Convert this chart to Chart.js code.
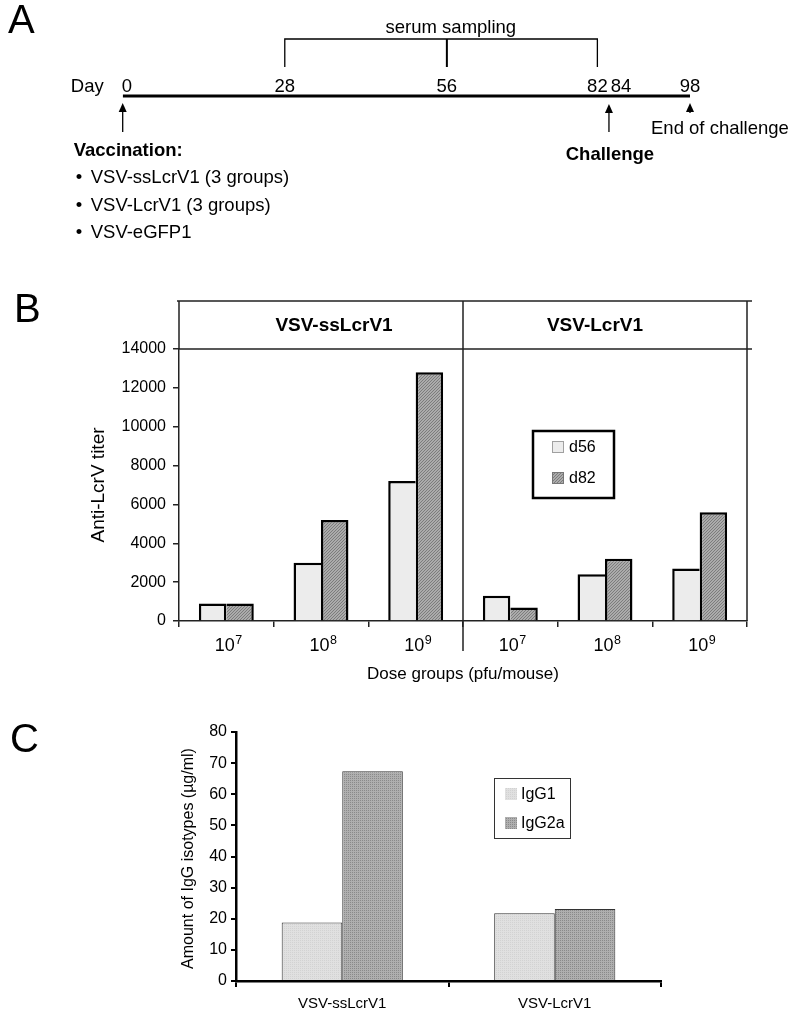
<!DOCTYPE html>
<html>
<head>
<meta charset="utf-8">
<script src="https://cdn.jsdelivr.net/npm/chart.js@4.4.1/dist/chart.umd.min.js"></script>
<style>
  body { margin: 0; background: #fff; }
  #wrap { position: relative; width: 800px; height: 1017px; background: #fff; }
  canvas { position: absolute; left: 0; }
</style>
</head>
<body>
<div id="wrap">
  <canvas id="timeline" width="800" height="260" style="top:0"></canvas>
  <canvas id="titer" width="800" height="400" style="top:290px"></canvas>
  <canvas id="isotype" width="800" height="327" style="top:690px"></canvas>
</div>
<script>
// --- panel A: study timeline (days)
const timelineDays = [0, 28, 56, 82, 84, 98];
const samplingDays = [28, 56, 82];
const vaccinationDay = 0;
const challengeDay = 84;
const endDay = 98;
const vaccineGroups = ['VSV-ssLcrV1 (3 groups)', 'VSV-LcrV1 (3 groups)', 'VSV-eGFP1'];

// --- panel B: anti-LcrV titer
const vectorGroups = ['VSV-ssLcrV1', 'VSV-LcrV1'];
const doseExponents = [7, 8, 9, 7, 8, 9];
const titerD56 = [900, 3000, 7200, 1300, 2400, 2700];
const titerD82 = [900, 5200, 12800, 700, 3200, 5600];

// --- panel C: IgG isotypes (ug/ml)
const isoGroups = ['VSV-ssLcrV1', 'VSV-LcrV1'];
const igg1 = [18.8, 21.8];
const igg2a = [67.4, 23.1];

const FONT = '"Liberation Sans", Arial, Helvetica, sans-serif';
Chart.defaults.font.family = FONT;
Chart.defaults.color = '#000';

function makePattern(size, base, ink, cells) {
  const c = document.createElement('canvas');
  c.width = c.height = size;
  const g = c.getContext('2d');
  g.fillStyle = base;
  g.fillRect(0, 0, size, size);
  g.fillStyle = ink;
  cells.forEach(([px, py]) => g.fillRect(px, py, 1, 1));
  return g.createPattern(c, 'repeat');
}
const d56Fill = '#ececec';
const d82Fill = makePattern(3, '#ababab', '#7c7c7c', [[0, 2], [1, 1], [2, 0]]);
const igg1Fill = makePattern(2, '#e0e0e0', '#d2d2d2', [[0, 0]]);
const igg2aFill = makePattern(2, '#afafaf', '#8a8a8a', [[0, 0]]);

function panelLetter(ctx, letter, px, py) {
  ctx.font = '40px ' + FONT;
  ctx.textAlign = 'left';
  ctx.textBaseline = 'alphabetic';
  ctx.fillText(letter, px, py);
}

// ---------------- A ----------------
const timelineDecor = {
  id: 'timelineDecor',
  afterDatasetsDraw(chart) {
    const { ctx, scales: { x, y } } = chart;
    const X = d => x.getPixelForValue(d);
    const y0 = y.getPixelForValue(0);
    ctx.save();
    ctx.fillStyle = '#000';
    ctx.strokeStyle = '#000';
    panelLetter(ctx, 'A', 8, 33);

    ctx.font = '18.5px ' + FONT;
    ctx.textAlign = 'right';
    ctx.fillText('Day', X(0) - 19, y0 - 4);

    // day labels, pushed apart where they would collide
    const labs = timelineDays.map(d => {
      const t = String(d);
      return { t, c: X(d), w: ctx.measureText(t).width };
    });
    labs[0].c += labs[0].w / 2 - 1;
    for (let i = 1; i < labs.length; i++) {
      const a = labs[i - 1], b = labs[i];
      const gap = (b.c - b.w / 2) - (a.c + a.w / 2);
      if (gap < 3) b.c += 3 - gap;
    }
    ctx.textAlign = 'center';
    labs.forEach(l => ctx.fillText(l.t, l.c, y0 - 4));

    // serum sampling bracket
    const top = y0 - 57, bot = y0 - 29;
    const first = samplingDays[0], last = samplingDays[samplingDays.length - 1];
    ctx.lineWidth = 1.3;
    ctx.beginPath();
    ctx.moveTo(X(first), bot);
    ctx.lineTo(X(first), top);
    ctx.lineTo(X(last), top);
    ctx.lineTo(X(last), bot);
    ctx.stroke();
    ctx.lineWidth = 2;
    samplingDays.slice(1, -1).forEach(d => {
      ctx.beginPath();
      ctx.moveTo(X(d), top);
      ctx.lineTo(X(d), bot);
      ctx.stroke();
    });
    ctx.fillText('serum sampling', X(samplingDays[1]) + 4, y0 - 63);

    function arrow(px, tip, tail) {
      ctx.lineWidth = 1.3;
      ctx.beginPath();
      ctx.moveTo(px, tail);
      ctx.lineTo(px, tip + 6);
      ctx.stroke();
      ctx.beginPath();
      ctx.moveTo(px, tip);
      ctx.lineTo(px - 4, tip + 9);
      ctx.lineTo(px + 4, tip + 9);
      ctx.closePath();
      ctx.fill();
    }
    arrow(X(vaccinationDay), y0 + 7, y0 + 36);
    arrow(X(challengeDay), y0 + 8, y0 + 36);
    arrow(X(endDay), y0 + 7, y0 + 17);

    ctx.textAlign = 'left';
    ctx.fillText('End of challenge', X(endDay) - 39, y0 + 38);
    ctx.font = 'bold 18.5px ' + FONT;
    ctx.textAlign = 'center';
    ctx.fillText('Challenge', X(challengeDay) + 1, y0 + 64);

    const lx = X(vaccinationDay) - 49;
    ctx.textAlign = 'left';
    ctx.fillText('Vaccination:', lx, y0 + 60);
    ctx.font = '18.5px ' + FONT;
    vaccineGroups.forEach((g, i) => {
      const by = y0 + 87 + i * 27.5;
      ctx.fillText('\u2022', lx + 2, by);
      ctx.fillText(g, lx + 17, by);
    });
    ctx.restore();
  }
};

new Chart(document.getElementById('timeline'), {
  type: 'scatter',
  data: {
    datasets: [{
      data: timelineDays.map(d => ({ x: d, y: 0 })),
      showLine: true,
      borderColor: '#000',
      borderWidth: 3,
      pointRadius: 0
    }]
  },
  options: {
    responsive: false,
    animation: false,
    layout: { padding: { left: 122.7, right: 110, top: 0, bottom: 68 } },
    plugins: { legend: { display: false }, tooltip: { enabled: false } },
    scales: {
      x: { type: 'linear', min: 0, max: 98, display: false },
      y: { min: -1, max: 1, display: false }
    }
  },
  plugins: [timelineDecor]
});

// ---------------- B ----------------
const doseDecor = {
  id: 'doseDecor',
  afterDraw(chart) {
    const { ctx, chartArea: a, scales: { x } } = chart;
    const headTop = a.top - 48;
    ctx.save();
    ctx.fillStyle = '#000';
    panelLetter(ctx, 'B', 14, 32);

    ctx.strokeStyle = '#222';
    ctx.lineWidth = 1.5;
    const xd = (x.getPixelForValue(2) + x.getPixelForValue(3)) / 2;
    ctx.beginPath();
    ctx.moveTo(a.left, a.top);
    ctx.lineTo(a.left, headTop);
    ctx.moveTo(a.left - 2, headTop);
    ctx.lineTo(a.right + 5, headTop);
    ctx.moveTo(a.right, headTop);
    ctx.lineTo(a.right, a.bottom);
    ctx.moveTo(a.left, a.top);
    ctx.lineTo(a.right + 5, a.top);
    ctx.moveTo(xd, headTop);
    ctx.lineTo(xd, a.bottom + 30);
    ctx.stroke();

    // group headers
    ctx.font = 'bold 19px ' + FONT;
    ctx.textAlign = 'center';
    ctx.textBaseline = 'middle';
    vectorGroups.forEach((g, i) => {
      const cx = x.getPixelForValue(i * 3 + 1) + (i === 0 ? 13 : -10);
      ctx.fillText(g, cx, (headTop + a.top) / 2 + 1);
    });

    // dose labels 10^n
    ctx.textBaseline = 'alphabetic';
    ctx.textAlign = 'left';
    doseExponents.forEach((e, i) => {
      ctx.font = '18px ' + FONT;
      const w10 = ctx.measureText('10').width;
      ctx.font = '12.5px ' + FONT;
      const we = ctx.measureText(String(e)).width;
      const start = x.getPixelForValue(i) - (w10 + we) / 2 + 2;
      const by = a.bottom + 30;
      ctx.font = '18px ' + FONT;
      ctx.fillText('10', start, by);
      ctx.font = '12.5px ' + FONT;
      ctx.fillText(String(e), start + w10 + 0.5, by - 7);
    });

    ctx.font = '17px ' + FONT;
    ctx.textAlign = 'center';
    ctx.fillText('Dose groups (pfu/mouse)', (a.left + a.right) / 2, a.bottom + 58);

    ctx.save();
    ctx.translate(99, (a.top + a.bottom) / 2);
    ctx.rotate(-Math.PI / 2);
    ctx.font = '19px ' + FONT;
    ctx.textBaseline = 'middle';
    ctx.fillText('Anti-LcrV titer', 0, 0);
    ctx.restore();

    // legend
    const ds = chart.data.datasets;
    ctx.lineWidth = 2.5;
    ctx.strokeStyle = '#000';
    ctx.strokeRect(533, 141, 81, 67);
    ctx.font = '16px ' + FONT;
    ctx.textAlign = 'left';
    ctx.textBaseline = 'middle';
    ds.forEach((d, i) => {
      const cy = 157 + i * 31;
      ctx.fillStyle = d.backgroundColor;
      ctx.fillRect(552, cy - 6, 12, 12);
      ctx.lineWidth = 1;
      ctx.strokeStyle = i === 0 ? '#a0a0a0' : '#777';
      ctx.strokeRect(552.5, cy - 5.5, 11, 11);
      ctx.fillStyle = '#000';
      ctx.fillText(d.label, 569, cy + 1);
    });
    ctx.restore();
  }
};

new Chart(document.getElementById('titer'), {
  type: 'bar',
  data: {
    labels: doseExponents.map(e => '10^' + e),
    datasets: [
      {
        label: 'd56',
        data: titerD56,
        backgroundColor: d56Fill,
        borderColor: '#000',
        borderWidth: c => ({ top: 2.5, left: 2.5, bottom: 0,
          right: titerD56[c.dataIndex] >= titerD82[c.dataIndex] ? 2.5 : 0 })
      },
      {
        label: 'd82',
        data: titerD82,
        backgroundColor: d82Fill,
        borderColor: '#000',
        borderWidth: c => ({ top: 2.5, right: 2.5, bottom: 0,
          left: titerD82[c.dataIndex] > titerD56[c.dataIndex] ? 2.5 : 0 })
      }
    ]
  },
  options: {
    responsive: false,
    animation: false,
    datasets: { bar: { categoryPercentage: 0.58, barPercentage: 1 } },
    layout: { padding: { left: 0, right: 53, top: 59, bottom: 9 } },
    plugins: { legend: { display: false }, tooltip: { enabled: false } },
    scales: {
      x: {
        grid: { display: true, drawOnChartArea: false, offset: true, tickLength: 6, color: '#222', lineWidth: 1.5 },
        border: { color: '#222', width: 1.5 },
        ticks: { display: false },
        afterFit: s => { s.height = 60; }
      },
      y: {
        min: 0,
        max: 14000,
        ticks: { stepSize: 2000, padding: 7, color: '#000', font: { size: 16 }, callback: v => String(v) },
        grid: { drawOnChartArea: false, tickLength: 6, color: '#222', lineWidth: 1.5 },
        border: { color: '#222', width: 1.5 },
        afterFit: s => { s.width = 179; }
      }
    }
  },
  plugins: [doseDecor]
});

// ---------------- C ----------------
const isoDecor = {
  id: 'isoDecor',
  afterDraw(chart) {
    const { ctx, chartArea: a } = chart;
    ctx.save();
    ctx.fillStyle = '#000';
    panelLetter(ctx, 'C', 10, 62);

    ctx.save();
    ctx.translate(189, (a.top + a.bottom) / 2 + 2);
    ctx.rotate(-Math.PI / 2);
    ctx.font = '16px ' + FONT;
    ctx.textAlign = 'center';
    ctx.textBaseline = 'middle';
    ctx.fillText('Amount of IgG isotypes (\u00b5g/ml)', 0, 0);
    ctx.restore();

    const ds = chart.data.datasets;
    ctx.lineWidth = 1;
    ctx.strokeStyle = '#333';
    ctx.strokeRect(494.5, 88.5, 76, 60);
    ctx.font = '16px ' + FONT;
    ctx.textAlign = 'left';
    ctx.textBaseline = 'middle';
    ds.forEach((d, i) => {
      const cy = 104 + i * 29;
      ctx.fillStyle = d.backgroundColor;
      ctx.fillRect(505, cy - 6, 12, 12);
      ctx.fillStyle = '#000';
      ctx.fillText(d.label, 521, cy + 1);
    });
    ctx.restore();
  }
};

new Chart(document.getElementById('isotype'), {
  type: 'bar',
  data: {
    labels: isoGroups,
    datasets: [
      { label: 'IgG1', data: igg1, backgroundColor: igg1Fill, borderColor: '#333', borderWidth: 1 },
      { label: 'IgG2a', data: igg2a, backgroundColor: igg2aFill, borderColor: '#333', borderWidth: 1 }
    ]
  },
  options: {
    responsive: false,
    animation: false,
    datasets: { bar: { categoryPercentage: 0.57, barPercentage: 1 } },
    layout: { padding: { left: 0, right: 139, top: 42, bottom: 0 } },
    plugins: { legend: { display: false }, tooltip: { enabled: false } },
    scales: {
      x: {
        grid: { display: true, drawOnChartArea: false, offset: true, tickLength: 6, color: '#000', lineWidth: 2 },
        border: { color: '#000', width: 2.5 },
        ticks: { padding: 8, color: '#000', font: { size: 15 } },
        afterFit: s => { s.height = 36; }
      },
      y: {
        min: 0,
        max: 80,
        ticks: { stepSize: 10, padding: 4, color: '#000', font: { size: 16 }, callback: v => String(v) },
        grid: { drawOnChartArea: false, tickLength: 5, color: '#000', lineWidth: 2 },
        border: { color: '#000', width: 2.5 },
        afterFit: s => { s.width = 236; }
      }
    }
  },
  plugins: [isoDecor]
});
</script>
</body>
</html>
